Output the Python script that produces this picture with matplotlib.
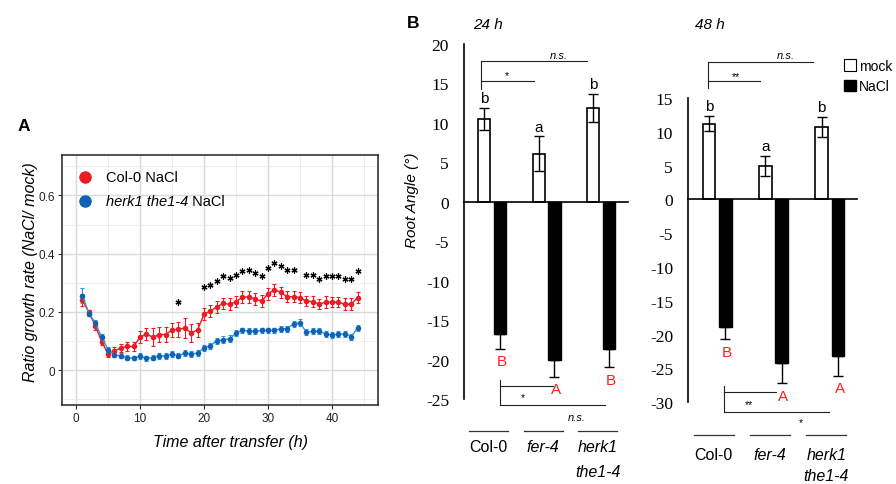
import numpy as np
import matplotlib
matplotlib.use('Agg')
import matplotlib.pyplot as plt
from matplotlib.patches import Patch

plt.rcParams['font.family'] = ['Liberation Sans', 'DejaVu Sans']
plt.rcParams['axes.unicode_minus'] = False

W, H = 896, 485

# ---- panel A: growth-rate ratio over time ----
hours = np.arange(1, 45)
col0_nacl = [0.240, 0.198, 0.153, 0.098, 0.055, 0.066, 0.076, 0.081, 0.081, 0.113,
             0.124, 0.113, 0.122, 0.122, 0.138, 0.140, 0.145, 0.128, 0.138, 0.192,
             0.203, 0.217, 0.229, 0.226, 0.235, 0.250, 0.252, 0.244, 0.237, 0.262,
             0.276, 0.267, 0.252, 0.252, 0.249, 0.237, 0.235, 0.227, 0.233, 0.233,
             0.233, 0.226, 0.226, 0.249]
col0_err = [0.020, 0.010, 0.015, 0.012, 0.010, 0.013, 0.015, 0.015, 0.015, 0.020,
            0.020, 0.030, 0.025, 0.025, 0.025, 0.025, 0.035, 0.030, 0.025, 0.020,
            0.020, 0.020, 0.020, 0.020, 0.020, 0.020, 0.020, 0.020, 0.020, 0.020,
            0.020, 0.020, 0.018, 0.018, 0.018, 0.018, 0.018, 0.018, 0.020, 0.018,
            0.018, 0.020, 0.020, 0.020]
herk_nacl = [0.256, 0.194, 0.163, 0.113, 0.070, 0.052, 0.049, 0.043, 0.041, 0.047,
             0.040, 0.043, 0.049, 0.049, 0.055, 0.049, 0.058, 0.056, 0.058, 0.076,
             0.084, 0.101, 0.105, 0.107, 0.127, 0.136, 0.134, 0.134, 0.136, 0.136,
             0.136, 0.142, 0.142, 0.159, 0.163, 0.130, 0.133, 0.134, 0.124, 0.121,
             0.124, 0.124, 0.115, 0.144]
herk_err = [0.025, 0.008, 0.010, 0.010, 0.010, 0.008, 0.008, 0.008, 0.008, 0.010,
            0.010, 0.010, 0.010, 0.010, 0.010, 0.008, 0.010, 0.010, 0.010, 0.010,
            0.010, 0.010, 0.012, 0.012, 0.010, 0.010, 0.010, 0.010, 0.010, 0.010,
            0.010, 0.010, 0.010, 0.010, 0.012, 0.010, 0.010, 0.010, 0.010, 0.010,
            0.010, 0.010, 0.010, 0.010]
star_hours = [16] + list(range(20, 35)) + list(range(36, 45))
star_y = [0.233,
          0.284, 0.293, 0.307, 0.322, 0.316, 0.326, 0.342, 0.345, 0.334, 0.324,
          0.351, 0.367, 0.357, 0.345, 0.345,
          0.328, 0.328, 0.314, 0.324, 0.322, 0.322, 0.314, 0.314, 0.342]

# ---- panel B: root angle ----
genotypes = ['Col-0', 'fer-4', 'herk1\nthe1-4']
geno_italic = [False, True, True]
mock_24 = [10.5, 6.1, 11.9]
mock_24_err = [1.4, 2.2, 1.8]
nacl_24 = [-16.7, -20.1, -18.7]
nacl_24_err = [1.9, 2.1, 2.3]
mock_48 = [11.2, 4.9, 10.7]
mock_48_err = [1.1, 1.5, 1.5]
nacl_48 = [-18.9, -24.2, -23.1]
nacl_48_err = [1.8, 3.0, 2.95]
mock_letters_24 = ['b', 'a', 'b']
nacl_letters_24 = ['B', 'A', 'B']
mock_letters_48 = ['b', 'a', 'b']
nacl_letters_48 = ['B', 'A', 'A']

red = '#ec1c24'
blue_pt = '#0f62b4'
blue_line = '#2b9ad8'
letter_red = '#ff1f1f'


def px(x, y):
    return x / W, 1 - y / H


def add_axes_px(left, top, right, bottom):
    return fig.add_axes([left / W, 1 - bottom / H, (right - left) / W, (bottom - top) / H])


fig = plt.figure(figsize=(W / 100, H / 100), dpi=100)

# ================= panel A =================
axA = add_axes_px(61.7, 155.7, 378.3, 406)
axA.set_xlim(-2.25, 47.25)
axA.set_ylim(-0.12, 0.74)
axA.set_xticks([0, 10, 20, 30, 40])
axA.set_xticks(np.arange(5, 50, 10), minor=True)
axA.set_yticks([0, 0.2, 0.4, 0.6])
axA.set_yticklabels(['0', '0.2', '0.4', '0.6'])
axA.set_yticks([-0.1, 0.1, 0.3, 0.5, 0.7], minor=True)
axA.grid(which='major', color='#dadada', lw=1.0)
axA.grid(which='minor', color='#ebebeb', lw=0.6)
axA.set_axisbelow(True)
axA.tick_params(which='minor', length=0)
axA.tick_params(which='major', length=3, width=0.8, color='#333333',
                labelsize=8.5, labelcolor='#222222', pad=2)
for s in axA.spines.values():
    s.set_color('#333333')
    s.set_linewidth(1.2)

axA.errorbar(hours, col0_nacl, yerr=col0_err, color=red, ecolor=red, lw=1.0,
             elinewidth=0.8, capsize=1.6, capthick=0.8, marker='o', ms=3,
             mfc=red, mec=red)
axA.errorbar(hours, herk_nacl, yerr=herk_err, color=blue_line, ecolor=blue_line, lw=1.0,
             elinewidth=0.8, capsize=1.6, capthick=0.8, marker='o', ms=3,
             mfc=blue_pt, mec=blue_pt)
axA.plot(star_hours, star_y, ls='none', marker=(6, 2, 0), ms=4.3, mew=0.9, color='black')

# legend (drawn by hand because of the italic genotype name)
axA.plot([0.0736], [0.910], 'o', ms=8, color=red, transform=axA.transAxes, clip_on=False)
axA.plot([0.0736], [0.816], 'o', ms=8, color=blue_pt, transform=axA.transAxes, clip_on=False)
axA.text(0.139, 0.910, 'Col-0 NaCl', transform=axA.transAxes, va='center', fontsize=10.5)
t_herk = axA.text(0.139, 0.816, 'herk1 the1-4', transform=axA.transAxes, va='center',
                  fontsize=10.5, style='italic')
axA.annotate(' NaCl', xy=(1, 0.5), xycoords=t_herk, va='center', fontsize=10.5)

fig.text(*px(30, 272), 'Ratio growth rate (NaCl/ mock)', rotation=90, style='italic',
         fontsize=11.5, ha='center', va='center')
fig.text(*px(230.5, 442.7), 'Time after transfer (h)', style='italic', fontsize=11.5,
         ha='center', va='center')
fig.text(*px(24, 127), 'A', fontsize=12.5, fontweight='bold', ha='center', va='center')


# ================= panel B =================
def draw_angle_panel(ax, ylim, step, mock, mock_err, nacl, nacl_err, mock_lett, nacl_lett,
                     label_y, label_dy, line_y):
    x = np.arange(len(genotypes))
    off, w = 0.145, 0.225
    ax.set_xlim(-0.51, 2.49)
    ax.set_ylim(*ylim)
    ax.bar(x - off, mock, width=w, color='white', edgecolor='black', lw=1.2, zorder=2)
    ax.errorbar(x - off, mock, yerr=mock_err, fmt='none', ecolor='black', elinewidth=1.0,
                capsize=3.5, capthick=1.0, zorder=3)
    ax.bar(x + off, nacl, width=w, color='black', edgecolor='black', lw=1.0, zorder=2)
    ax.errorbar(x + off, nacl, yerr=[nacl_err, np.zeros(len(nacl))], fmt='none',
                ecolor='black', elinewidth=1.0, capsize=3.5, capthick=1.0, zorder=3)
    for i in range(len(x)):
        ax.annotate(mock_lett[i], xy=(x[i] - off, mock[i] + mock_err[i]), xytext=(0, 2),
                    textcoords='offset points', ha='center', va='bottom', fontsize=11)
        ax.annotate(nacl_lett[i], xy=(x[i] + off + 0.03, nacl[i] - nacl_err[i]),
                    xytext=(0, -4), textcoords='offset points', ha='center', va='top',
                    fontsize=11, color=letter_red)
    ax.set_yticks(np.arange(ylim[0], ylim[1] + 1, step))
    ax.set_xticks([])
    ax.tick_params(axis='y', length=0, pad=11)
    for lab in ax.get_yticklabels():
        lab.set_family(['Liberation Serif', 'DejaVu Serif'])
        lab.set_fontsize(12.5)
    for s in ['top', 'right']:
        ax.spines[s].set_visible(False)
    ax.spines['left'].set_linewidth(1.2)
    ax.spines['bottom'].set_linewidth(1.2)
    ax.spines['bottom'].set_position(('data', 0))
    # genotype labels below the plot
    for i, name in enumerate(genotypes):
        c = x[i] - 0.06
        ax.plot([c - 0.355, c + 0.355], [line_y, line_y], color='#333333', lw=0.9,
                clip_on=False)
        for j, part in enumerate(name.split('\n')):
            ax.text(c, label_y - j * label_dy, part, ha='center', va='baseline',
                    fontsize=11.5, style='italic' if geno_italic[i] else 'normal',
                    clip_on=False)


def bracket(ax, x0, y_top, y_bot, lines):
    ax.plot([x0, x0], [y_top, y_bot], color='#222222', lw=0.8, clip_on=False)
    for y, x1, lab, lx, ly in lines:
        ax.plot([x0, x1], [y, y], color='#222222', lw=0.8, clip_on=False)
        ax.text(lx, ly, lab, ha='center', va='center', clip_on=False,
                fontsize=8 if lab == 'n.s.' else 7.5,
                style='italic' if lab == 'n.s.' else 'normal')


ax24 = add_axes_px(464.3, 45, 627.7, 400)
draw_angle_panel(ax24, (-25, 20), 5, mock_24, mock_24_err, nacl_24, nacl_24_err,
                 mock_letters_24, nacl_letters_24, -31.65, 3.1, -29.09)
bracket(ax24, -0.204, 17.8, 14.3, [(17.8, 1.737, 'n.s.', 1.234, 18.6),
                                   (15.35, 0.769, '*', 0.268, 16.1)])
bracket(ax24, 0.145, -22.59, -25.76, [(-23.31, 1.113, '*', 0.573, -24.8),
                                      (-25.76, 2.073, 'n.s.', 1.553, -27.3)])

ax48 = add_axes_px(688.3, 99, 857.3, 403.3)
draw_angle_panel(ax48, (-30, 15), 5, mock_48, mock_48_err, nacl_48, nacl_48_err,
                 mock_letters_48, nacl_letters_48, -38.4, 3.15, -34.8)
bracket(ax48, -0.163, 20.36, 16.47, [(20.36, 1.703, 'n.s.', 1.225, 21.3),
                                     (17.55, 0.757, '**', 0.327, 18.3)])
bracket(ax48, 0.12, -27.55, -31.4, [(-28.53, 1.053, '**', 0.563, -30.3),
                                    (-31.4, 1.991, '*', 1.496, -32.9)])

fig.text(*px(411.7, 200), 'Root Angle (\u00b0)', rotation=90, style='italic', fontsize=11,
         ha='center', va='center')
fig.text(*px(413, 23), 'B', fontsize=12.5, fontweight='bold', ha='center', va='center')
fig.text(*px(488, 25), '24 h', style='italic', fontsize=11, ha='center', va='center')
fig.text(*px(710, 25), '48 h', style='italic', fontsize=11, ha='center', va='center')

fig.legend(handles=[Patch(fc='white', ec='black', lw=0.8), Patch(fc='black', ec='black')],
           labels=['mock', 'NaCl'], loc='upper left', bbox_to_anchor=px(844, 60),
           frameon=False, fontsize=10, handlelength=0.85, handleheight=0.9,
           handletextpad=0.25, labelspacing=0.45, borderpad=0, borderaxespad=0)

fig.savefig('out.png', dpi=100)
